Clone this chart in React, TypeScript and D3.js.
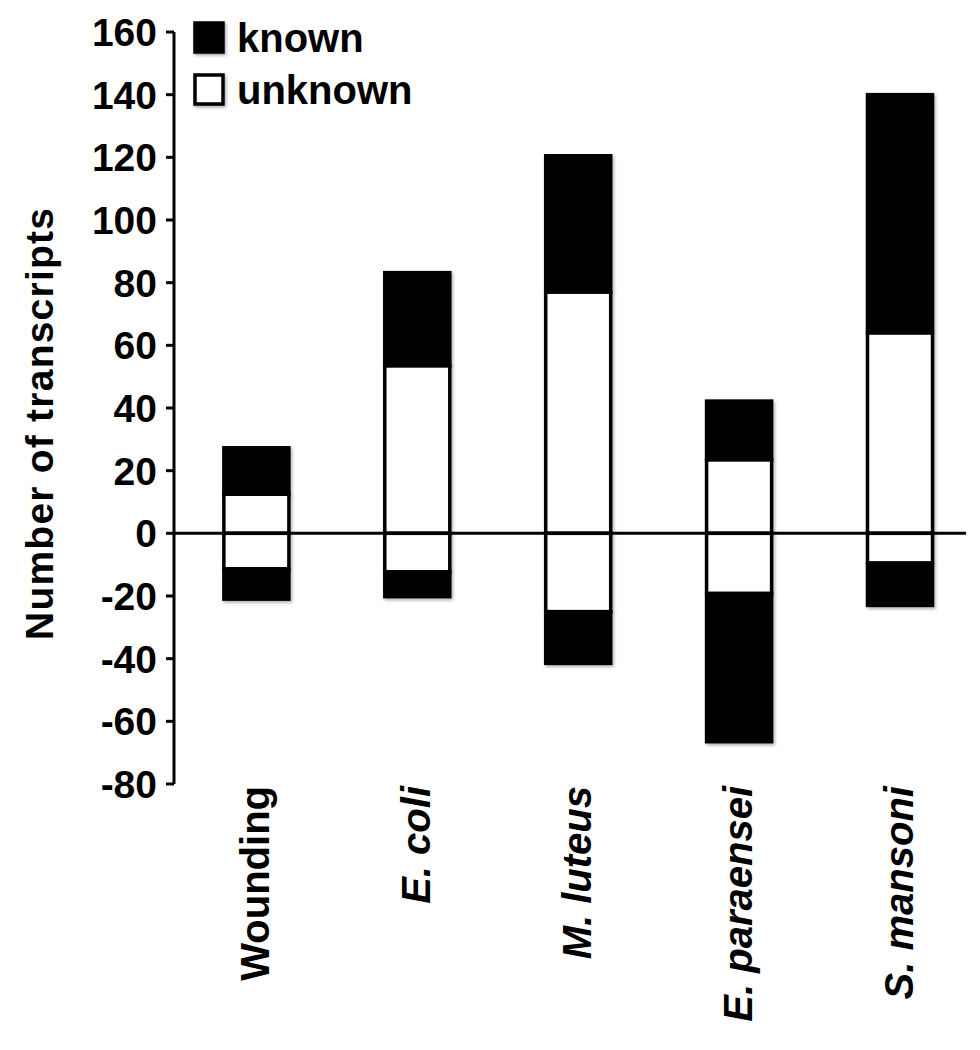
import * as d3 from "d3";

const categories = ["Wounding", "E. coli", "M. luteus", "E. paraensei", "S. mansoni"];
const italicLabel = [false, true, true, true, true];

// up-regulated (positive) and down-regulated (negative) transcripts
const unknownUp = [12.5, 53.5, 77, 23.5, 64];
const knownUp = [14.8, 29.7, 43.5, 18.7, 76];
const unknownDown = [-11.3, -12.3, -25, -19.2, -9.5];
const knownDown = [-9.7, -7.9, -16.5, -47.3, -13.5];

const yTicks = [-80, -60, -40, -20, 0, 20, 40, 60, 80, 100, 120, 140, 160];

const legendItems = [
  { label: "known", fill: "#000" },
  { label: "unknown", fill: "#fff" },
];

const FONT = "'Liberation Sans', Arial, Helvetica, sans-serif";

export default function App() {
  const width = 980;
  const height = 1050;
  const axisX = 174;

  const y = d3.scaleLinear().domain([-80, 160]).range([784, 32]);
  const x = d3
    .scaleBand<string>()
    .domain(categories)
    .range([axisX, 982.4])
    .paddingInner(0.596)
    .paddingOuter(0.31);

  const bw = x.bandwidth();
  const stroke = 3.5;

  // build the stacked segments
  const segments: { cat: string; y0: number; y1: number; known: boolean }[] = [];
  categories.forEach((cat, i) => {
    segments.push({ cat, y0: 0, y1: unknownUp[i], known: false });
    segments.push({ cat, y0: unknownUp[i], y1: unknownUp[i] + knownUp[i], known: true });
    segments.push({ cat, y0: 0, y1: unknownDown[i], known: false });
    segments.push({ cat, y0: unknownDown[i], y1: unknownDown[i] + knownDown[i], known: true });
  });

  return (
    <svg
      width={width}
      height={height}
      viewBox={`0 0 ${width} ${height}`}
      style={{ position: "absolute", left: 0, top: 0, background: "#fff" }}
      fontFamily={FONT}
    >
      <defs>
        <filter id="shadow" x="-10%" y="-10%" width="130%" height="130%">
          <feDropShadow dx="1.5" dy="2" stdDeviation="1.5" floodColor="#000" floodOpacity="0.3" />
        </filter>
      </defs>
      <rect width={width} height={height} fill="#fff" />

      {/* bars */}
      <g filter="url(#shadow)">
        {segments.map((s, i) => {
          const top = y(Math.max(s.y0, s.y1));
          const bottom = y(Math.min(s.y0, s.y1));
          return (
            <rect
              key={i}
              x={x(s.cat)!}
              y={top}
              width={bw}
              height={bottom - top}
              fill={s.known ? "#000" : "#fff"}
              stroke="#000"
              strokeWidth={stroke}
            />
          );
        })}
      </g>

      {/* zero line */}
      <line x1={axisX} x2={966} y1={y(0)} y2={y(0)} stroke="#000" strokeWidth={3} />

      {/* y axis */}
      <line x1={axisX} x2={axisX} y1={y(160)} y2={y(-80)} stroke="#000" strokeWidth={3} />
      {yTicks.map((t) => (
        <g key={t}>
          <line x1={axisX - 8} x2={axisX} y1={y(t)} y2={y(t)} stroke="#000" strokeWidth={3} />
          <text
            x={157}
            y={y(t)}
            dy="0.36em"
            textAnchor="end"
            fontSize={39}
            fontWeight="bold"
          >
            {t}
          </text>
        </g>
      ))}

      {/* y axis title */}
      <text
        transform={`translate(53,424) rotate(-90)`}
        textAnchor="middle"
        fontSize={39}
        fontWeight="bold"
        textLength={432}
        lengthAdjust="spacing"
      >
        Number of transcripts
      </text>

      {/* category labels */}
      {categories.map((c, i) => {
        const cx = x(c)! + bw / 2;
        return (
          <text
            key={c}
            transform={`translate(${cx + 13},786) rotate(-90)`}
            textAnchor="end"
            fontSize={40}
            fontWeight="bold"
            fontStyle={italicLabel[i] ? "italic" : "normal"}
          >
            {c}
          </text>
        );
      })}

      {/* legend */}
      {legendItems.map((d, i) => (
        <g key={d.label} transform={`translate(0,${i * 52})`}>
          <rect
            x={195}
            y={23}
            width={28}
            height={29}
            fill={d.fill}
            stroke="#000"
            strokeWidth={3.5}
            filter="url(#shadow)"
          />
          <text x={237} y={52} fontSize={40} fontWeight="bold">
            {d.label}
          </text>
        </g>
      ))}
    </svg>
  );
}
